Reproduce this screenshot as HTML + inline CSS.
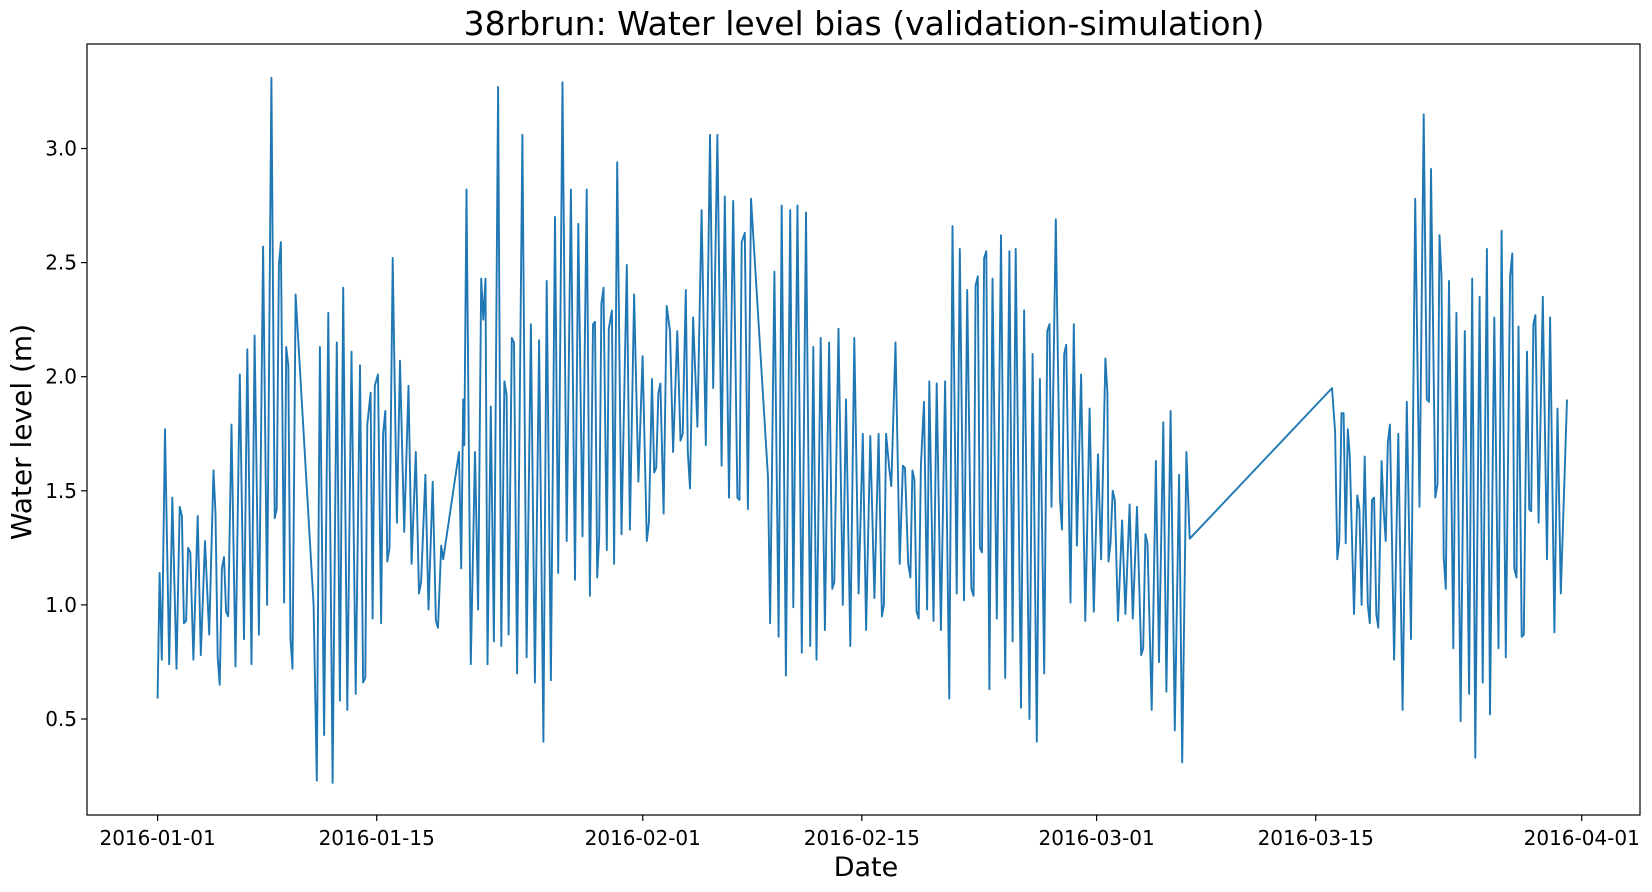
<!DOCTYPE html>
<html><head><meta charset="utf-8"><style>
html,body{margin:0;padding:0;background:#fff;}
svg text{font-family:"DejaVu Sans","Liberation Sans",sans-serif;fill:#000;}
</style></head><body>
<svg id="chart" width="1652" height="887" viewBox="0 0 1652 887" xmlns="http://www.w3.org/2000/svg">
<rect x="0" y="0" width="1652" height="887" fill="#fff"/>
<text x="864" y="35" font-size="33" text-anchor="middle">38rbrun: Water level bias (validation-simulation)</text>
<g id="plot"></g>
<text x="866" y="876" font-size="27" text-anchor="middle">Date</text>
<text transform="translate(31,432) rotate(-90)" font-size="28" text-anchor="middle">Water level (m)</text>
</svg>
<script>
const days = [0,0.13,0.27,0.47,0.74,0.94,1.21,1.41,1.55,1.68,1.82,1.95,2.09,2.29,2.56,2.76,3.03,3.30,3.57,3.70,3.84,3.97,4.11,4.24,4.38,4.51,4.72,4.98,5.25,5.52,5.73,6.0,6.2,6.47,6.74,7.0,7.27,7.48,7.61,7.75,7.88,8.08,8.22,8.35,8.49,8.62,8.82,9.97,10.17,10.37,10.64,10.91,11.18,11.45,11.65,11.86,12.12,12.39,12.66,12.93,13.13,13.27,13.4,13.61,13.74,13.88,14.08,14.28,14.41,14.55,14.68,14.82,15.02,15.29,15.49,15.76,16.03,16.23,16.5,16.7,16.84,17.11,17.31,17.58,17.78,17.92,18.12,18.25,19.26,19.4,19.53,19.6,19.74,
20.01,20.28,20.48,20.68,20.81,20.95,21.08,21.29,21.49,21.76,21.96,22.16,22.30,22.43,22.63,22.77,22.97,23.31,23.58,23.85,24.11,24.38,24.65,24.86,25.13,25.39,25.60,25.87,26.14,26.41,26.67,26.88,27.15,27.42,27.62,27.82,27.95,28.09,28.22,28.36,28.49,28.70,28.83,29.03,29.17,29.37,29.64,29.98,30.18,30.45,30.72,30.99,31.26,31.39,31.59,31.73,31.86,32.0,32.13,32.33,32.53,32.74,32.94,33.21,33.41,33.55,33.75,33.88,34.02,34.22,34.49,34.76,35.03,35.30,35.50,35.77,36.04,36.24,36.51,36.78,37.05,37.18,37.32,37.52,37.72,37.92,
39.0,39.14,39.41,39.68,39.88,40.15,40.42,40.62,40.89,41.16,41.43,41.70,41.90,42.10,42.37,42.64,42.91,43.11,43.24,43.51,43.78,43.99,44.26,44.52,44.79,45.06,45.27,45.54,45.80,46.07,46.28,46.41,46.55,46.75,46.88,47.15,47.42,47.62,47.76,47.96,48.10,48.23,48.36,48.50,48.63,48.77,48.97,49.17,49.31,49.58,49.78,50.05,50.32,50.59,50.79,51.06,51.26,51.53,51.73,52.0,52.14,52.27,52.41,52.54,52.68,52.81,52.95,53.15,53.35,53.62,53.89,54.16,54.43,54.63,54.83,55.17,55.37,55.71,55.91,56.18,56.38,56.65,56.85,56.99,57.12,57.39,57.66,57.79,57.93,58.06,58.33,58.54,58.74,59.01,59.28,59.55,59.82,60.09,60.29,60.56,60.69,60.76,60.89,61.03,61.16,61.37,61.63,61.84,62.11,62.31,62.58,62.85,62.98,63.12,63.25,63.52,63.79,63.99,64.26,64.46,64.73,65.0,65.27,65.47,65.74,65.95,
75.04,75.24,75.38,75.51,75.65,75.78,75.92,76.05,76.18,76.45,76.66,76.79,76.93,77.13,77.33,77.46,77.60,77.73,77.87,78.0,78.21,78.34,78.47,78.61,78.74,79.01,79.28,79.55,79.82,80.09,80.36,80.63,80.90,81.10,81.24,81.37,81.64,81.78,81.91,82.04,82.18,82.31,82.52,82.79,82.99,83.26,83.53,83.80,84.0,84.20,84.47,84.67,84.94,85.14,85.41,85.68,85.88,86.15,86.42,86.56,86.69,86.83,86.96,87.16,87.30,87.50,87.64,87.77,87.91,88.04,88.24,88.51,88.78,88.98,89.25,89.45,89.66,90.06];
const levels = [0.59,1.14,0.76,1.77,0.74,1.47,0.72,1.43,1.39,0.92,0.93,1.25,1.23,0.76,1.39,0.78,1.28,0.87,1.59,1.4,0.77,0.65,1.16,1.21,0.97,0.95,1.79,0.73,2.01,0.85,2.12,0.74,2.18,0.87,2.57,1.0,3.31,1.38,1.42,2.49,2.59,1.01,2.13,2.05,0.85,0.72,2.36,1.0,0.23,2.13,0.43,2.28,0.22,2.15,0.58,2.39,0.54,2.11,0.61,2.05,0.66,0.68,1.79,1.93,0.94,1.96,2.01,0.92,1.75,1.85,1.19,1.25,2.52,1.36,2.07,1.32,1.96,1.18,1.67,1.05,1.1,1.57,0.98,1.54,0.93,0.9,1.26,1.2,1.67,1.16,1.9,1.7,2.82,
0.74,1.67,0.98,2.43,2.25,2.43,0.74,1.87,0.84,3.27,0.82,1.98,1.92,0.87,2.17,2.15,0.7,3.06,0.77,2.23,0.66,2.16,0.40,2.42,0.67,2.7,1.14,3.29,1.28,2.82,1.11,2.67,1.3,2.82,1.04,2.23,2.24,1.12,1.3,2.32,2.39,1.24,2.21,2.29,1.18,2.94,1.31,2.49,1.33,2.36,1.54,2.09,1.28,1.36,1.99,1.58,1.6,1.93,1.97,1.4,2.31,2.2,1.67,2.2,1.72,1.75,2.38,1.67,1.51,2.26,1.78,2.73,1.7,3.06,1.95,3.06,1.61,2.79,1.47,2.77,1.47,1.46,2.59,2.63,1.42,2.78,
1.56,0.92,2.46,0.86,2.75,0.69,2.73,0.99,2.75,0.79,2.72,0.82,2.13,0.76,2.17,0.89,2.15,1.07,1.1,2.21,1.0,1.9,0.82,2.17,1.05,1.75,0.89,1.74,1.03,1.75,0.95,1.0,1.75,1.6,1.52,2.15,1.18,1.61,1.6,1.18,1.12,1.59,1.55,0.97,0.94,1.61,1.89,0.98,1.98,0.93,1.97,0.89,1.98,0.59,2.66,1.05,2.56,1.02,2.38,1.07,1.04,2.4,2.44,1.25,1.23,2.52,2.55,0.63,2.43,0.94,2.62,0.68,2.55,0.84,2.56,0.55,2.29,0.5,2.1,0.4,1.99,0.7,2.2,2.23,1.43,2.69,1.46,1.33,2.1,2.14,1.01,2.23,1.26,2.01,0.93,1.86,0.97,1.66,1.2,2.08,1.93,1.19,1.27,1.5,1.46,0.93,1.37,0.96,1.44,0.94,1.43,0.78,0.81,1.31,1.27,0.54,1.63,0.75,1.8,0.62,1.85,0.45,1.57,0.31,1.67,1.29,
1.95,1.76,1.2,1.28,1.84,1.84,1.27,1.77,1.65,0.96,1.48,1.42,1.0,1.65,1.0,0.92,1.46,1.47,0.96,0.9,1.63,1.42,1.28,1.71,1.79,0.76,1.75,0.54,1.89,0.85,2.78,1.43,3.15,1.9,1.89,2.91,1.47,1.53,2.62,2.44,1.21,1.07,2.42,0.81,2.28,0.49,2.2,0.61,2.43,0.33,2.35,0.66,2.56,0.52,2.26,0.81,2.64,0.77,2.44,2.54,1.16,1.12,2.22,0.86,0.87,2.11,1.42,1.41,2.23,2.27,1.36,2.35,1.2,2.26,0.88,1.86,1.05,1.9];
const xTickDays = [0,14,31,45,60,74,91];
const xTickLabels = ["2016-01-01","2016-01-15","2016-02-01","2016-02-15","2016-03-01","2016-03-15","2016-04-01"];
const yTickValues = [0.5,1.0,1.5,2.0,2.5,3.0];
const yTickLabels = ["0.5","1.0","1.5","2.0","2.5","3.0"];

const NS = "http://www.w3.org/2000/svg";
const L = 87, R = 1640, T = 44, B = 815;
function xScale(d){ return 157.6 + d * 15.65; }
function yScale(v){ return 719 - (v - 0.5) * 228.2; }
const plot = document.getElementById('plot');

let dstr = "";
for (let i = 0; i < days.length; i++) {
  dstr += (i ? "L" : "M") + xScale(days[i]).toFixed(1) + "," + yScale(levels[i]).toFixed(1);
}
const path = document.createElementNS(NS, 'path');
path.setAttribute('d', dstr);
path.setAttribute('fill', 'none');
path.setAttribute('stroke', '#1f77b4');
path.setAttribute('stroke-width', '1.9');
path.setAttribute('stroke-linejoin', 'round');


plot.appendChild(path);

const frame = document.createElementNS(NS, 'rect');
frame.setAttribute('x', L); frame.setAttribute('y', T);
frame.setAttribute('width', R - L); frame.setAttribute('height', B - T);
frame.setAttribute('fill', 'none'); frame.setAttribute('stroke', '#000'); frame.setAttribute('stroke-width', '1.2');


plot.appendChild(frame);

for (let i = 0; i < xTickDays.length; i++) {
  const x = xScale(xTickDays[i]);
  const tk = document.createElementNS(NS, 'line');
  tk.setAttribute('x1', x); tk.setAttribute('x2', x); tk.setAttribute('y1', B); tk.setAttribute('y2', B + 6);
  tk.setAttribute('stroke', '#000'); tk.setAttribute('stroke-width', '1.2');
  
  
  plot.appendChild(tk);
  const tx = document.createElementNS(NS, 'text');
  tx.setAttribute('x', x); tx.setAttribute('y', B + 30);
  tx.setAttribute('font-size', '20'); tx.setAttribute('text-anchor', 'middle');
  tx.textContent = xTickLabels[i];
  
  
  plot.appendChild(tx);
}
for (let i = 0; i < yTickValues.length; i++) {
  const y = yScale(yTickValues[i]);
  const tk = document.createElementNS(NS, 'line');
  tk.setAttribute('x1', L - 6); tk.setAttribute('x2', L); tk.setAttribute('y1', y); tk.setAttribute('y2', y);
  tk.setAttribute('stroke', '#000'); tk.setAttribute('stroke-width', '1.2');
  
  
  plot.appendChild(tk);
  const tx = document.createElementNS(NS, 'text');
  tx.setAttribute('x', L - 10); tx.setAttribute('y', y + 7);
  tx.setAttribute('font-size', '20'); tx.setAttribute('text-anchor', 'end');
  tx.textContent = yTickLabels[i];
  
  
  plot.appendChild(tx);
}
</script>
</body></html>
